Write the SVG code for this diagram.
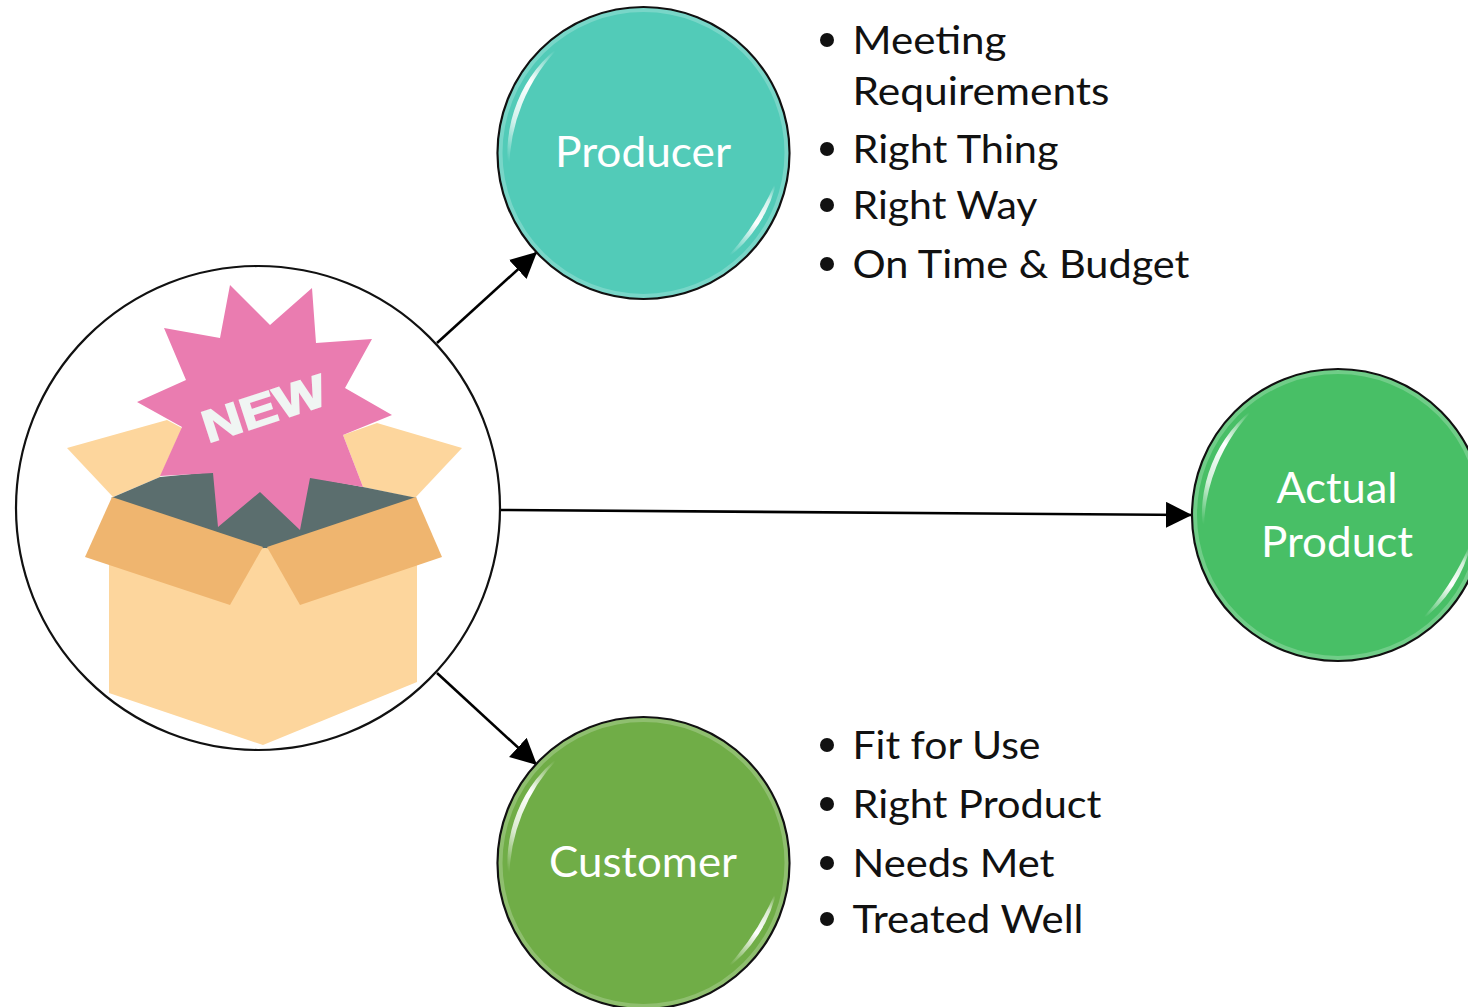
<svg xmlns="http://www.w3.org/2000/svg" width="1468" height="1007" viewBox="0 0 1468 1007">
<style>
text{font-family:"Lato","Carlito","Open Sans",sans-serif}
.lbl{font-size:42.5px;fill:#fff;text-anchor:middle}
.li{font-size:39px;fill:#111}
.dot{fill:#111}
.ring{stroke:#111;stroke-width:2.2}
.edge{fill:none;stroke:#000;stroke-width:2.6;marker-end:url(#arrow)}
</style>
<defs>
<marker id="arrow" markerUnits="userSpaceOnUse" markerWidth="28" markerHeight="28" refX="26" refY="13" orient="auto">
<path d="M0,0L26,13L0,26Z" fill="#000"/>
</marker>
<filter id="soft" x="-20%" y="-20%" width="140%" height="140%"><feGaussianBlur stdDeviation="0.7"/></filter>
<linearGradient id="hlA" x1="0.7" y1="0" x2="0.3" y2="1"><stop offset="0" stop-color="#fff" stop-opacity="0"/><stop offset=".35" stop-color="#fff" stop-opacity="1"/><stop offset=".7" stop-color="#fff" stop-opacity=".75"/><stop offset="1" stop-color="#fff" stop-opacity="0"/></linearGradient>
<linearGradient id="hlB" x1="0.3" y1="1" x2="0.7" y2="0"><stop offset="0" stop-color="#fff" stop-opacity="0"/><stop offset=".5" stop-color="#fff" stop-opacity="1"/><stop offset=".8" stop-color="#fff" stop-opacity=".75"/><stop offset="1" stop-color="#fff" stop-opacity="0"/></linearGradient>
<g id="shine" filter="url(#soft)">
<path d="M-80,-110A136,136 0 0 0 -134,24A175,175 0 0 1 -80,-110Z" fill="url(#hlA)"/>
<path d="M80,108A134,134 0 0 0 134,24A260,260 0 0 1 80,108Z" fill="url(#hlB)"/>
<circle r="143" fill="none" stroke="#fff" stroke-opacity=".22" stroke-width="4"/>
</g>
</defs>

<g id="connectors">
<line class="edge" x1="437" y1="343" x2="537" y2="252"/>
<line class="edge" x1="501" y1="510" x2="1192" y2="515"/>
<line class="edge" x1="437" y1="673" x2="537" y2="765"/>
</g>

<g id="new-product">
<circle class="ring" cx="258" cy="508" r="242" fill="#fff"/>
<polygon fill="#fdd69d" points="67,448 167,420 182,428 160,477 113,497"/>
<polygon fill="#fdd69d" points="462,448 377,423 343,435 363,487 415,498"/>
<polygon fill="#5b6e6e" points="111,498 160,477 213,472 310,477 363,487 417,498 265,550"/>
<polygon fill="#fdd69d" points="109,555 265,548 417,555 417,682 263,745 109,693"/>
<polygon fill="#efb56f" points="112,497 263,547 230,605 85,557"/>
<polygon fill="#efb56f" points="416,497 442,557 300,605 267,547"/>
<polygon fill="#ea7cb0" points="230,285 270,325 312,288 316,343 372,339 345,388 392,415 343,435 363,487 310,478 300,530 260,492 218,527 213,473 160,476 182,427 137,402 186,380 164,328 220,338"/>
<text x="264" y="424" transform="rotate(-18 264 408)" font-size="45" font-weight="700" fill="#f0f5f3" stroke="#f0f5f3" stroke-width="1.6" text-anchor="middle" textLength="128" lengthAdjust="spacingAndGlyphs" style="font-family:'Liberation Sans',sans-serif">NEW</text>
</g>

<g id="producer">
<circle class="ring" cx="643.5" cy="153" r="146" fill="#52cbb8"/>
<use href="#shine" x="643.5" y="153"/>
<text class="lbl" x="643" y="167" textLength="176" lengthAdjust="spacingAndGlyphs">Producer</text>
</g>

<g id="actual-product">
<circle class="ring" cx="1338" cy="515" r="146" fill="#48bf66"/>
<use href="#shine" x="1338" y="515"/>
<text class="lbl" x="1337" y="503" textLength="121" lengthAdjust="spacingAndGlyphs">Actual</text>
<text class="lbl" x="1337" y="557" textLength="152" lengthAdjust="spacingAndGlyphs">Product</text>
</g>

<g id="customer">
<circle class="ring" cx="643.5" cy="863" r="146" fill="#70ad47"/>
<use href="#shine" x="643.5" y="863"/>
<text class="lbl" x="643" y="877" textLength="188" lengthAdjust="spacingAndGlyphs">Customer</text>
</g>

<g id="producer-list">
<circle class="dot" cx="827" cy="40" r="7"/>
<text class="li" x="852.5" y="54" textLength="154" lengthAdjust="spacingAndGlyphs">Meeting</text>
<text class="li" x="852.5" y="105" textLength="257" lengthAdjust="spacingAndGlyphs">Requirements</text>
<circle class="dot" cx="827" cy="149" r="7"/>
<text class="li" x="852.5" y="163" textLength="206" lengthAdjust="spacingAndGlyphs">Right Thing</text>
<circle class="dot" cx="827" cy="205" r="7"/>
<text class="li" x="852.5" y="219" textLength="185" lengthAdjust="spacingAndGlyphs">Right Way</text>
<circle class="dot" cx="827" cy="264" r="7"/>
<text class="li" x="852.5" y="278" textLength="337" lengthAdjust="spacingAndGlyphs">On Time &amp; Budget</text>
</g>

<g id="customer-list">
<circle class="dot" cx="827" cy="745" r="7"/>
<text class="li" x="852.5" y="759" textLength="188" lengthAdjust="spacingAndGlyphs">Fit for Use</text>
<circle class="dot" cx="827" cy="804" r="7"/>
<text class="li" x="852.5" y="818" textLength="249" lengthAdjust="spacingAndGlyphs">Right Product</text>
<circle class="dot" cx="827" cy="863" r="7"/>
<text class="li" x="852.5" y="877" textLength="202" lengthAdjust="spacingAndGlyphs">Needs Met</text>
<circle class="dot" cx="827" cy="919" r="7"/>
<text class="li" x="852.5" y="933" textLength="231" lengthAdjust="spacingAndGlyphs">Treated Well</text>
</g>
</svg>
